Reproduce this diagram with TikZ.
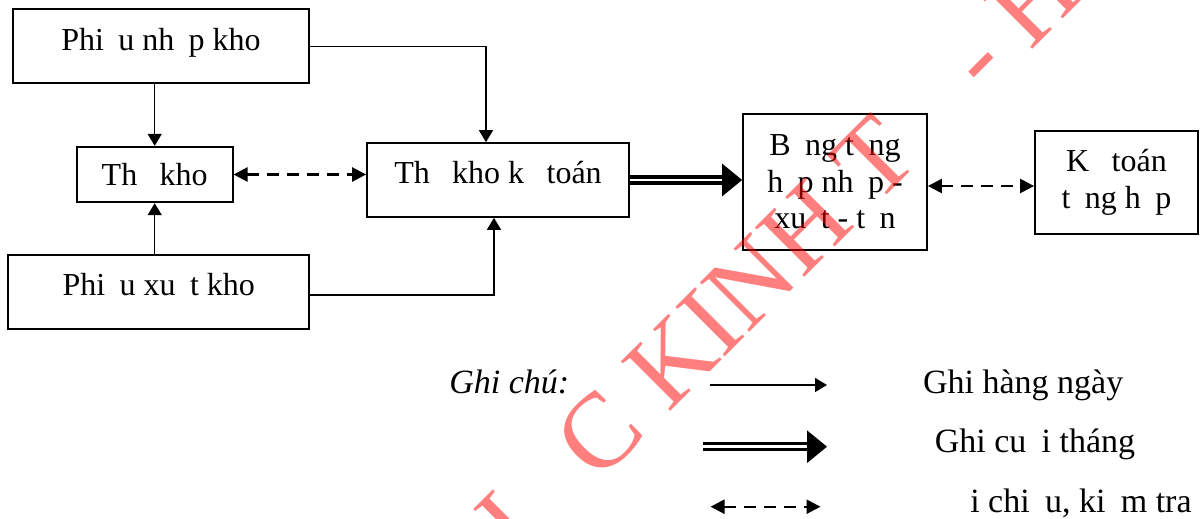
\documentclass[tikz,border=0pt]{standalone}
\usepackage{fontspec}
\setmainfont{Liberation Serif}
\usetikzlibrary{arrows.meta,calc}
\newcommand{\gp}{\hspace{.45em}}

\begin{document}
\begin{tikzpicture}[x=0.75pt,y=0.75pt,yscale=-1,xscale=1,
  box/.style={draw, line width=1.3pt, inner sep=0pt, align=center, font=\fontsize{24}{27.5}\selectfont},
  arr/.style={line width=1.1pt, -{Triangle[length=9pt,width=10.5pt]}},
  dasharr/.style={line width=1.8pt, dash pattern=on 9pt off 6pt, {Triangle[length=10.5pt,width=10.5pt]}-{Triangle[length=10.5pt,width=10.5pt]}},
  dblarr/.style={double, line width=2.4pt, double distance=2pt, -{Triangle[length=15pt,width=24pt]}},
  lbl/.style={anchor=base west, inner sep=0pt, font=\fontsize{25.5}{28}\selectfont},
  wmark/.style={text=red, text opacity=0.5, inner sep=0pt, font=\fontsize{80}{82}\selectfont}]
\useasboundingbox (0,0) rectangle (1202,518);

% boxes
\node[box, minimum width=222.2pt, minimum height=55.5pt, text height=17pt, text depth=11.4pt] (nhap) at (161,46.3) {Phi\gp u nh\gp p kho};
\node[box, minimum width=117pt, minimum height=41.7pt, text height=17pt, text depth=1.2pt] (thekho) at (154.7,174.5) {Th\gp{} kho};
\node[box, minimum width=225.8pt, minimum height=55.7pt, text height=17pt, text depth=12.8pt] (xuat) at (158.8,292.2) {Phi\gp u xu\gp t kho};
\node[box, minimum width=196.5pt, minimum height=55.5pt, text height=17pt, text depth=12.5pt] (tkkt) at (498,180) {Th\gp{} kho k\gp{} toán};
\node[box, minimum width=138pt, minimum height=102pt] (bang) at (835,182) {B\gp ng t\gp ng\\h\gp p nh\gp p -\\xu\gp t - t\gp n};
\node[box, minimum width=122.3pt, minimum height=77.3pt] (kttong) at (1116.5,182.5) {K\gp{} toán\\t\gp ng h\gp p};

% connectors
\draw[arr] (thekho.north |- nhap.south) -- (thekho.north);
\draw[arr] (thekho.south |- xuat.north) -- (thekho.south);
\draw[arr] (nhap.east) -| ($(tkkt.north)+(-12,0)$);
\draw[arr] ($(xuat.east)+(0,3)$) -| ($(tkkt.south)+(-4,0)$);
\draw[dasharr] (thekho.east) -- (thekho.east -| tkkt.west);
\draw[dblarr] (tkkt.east) -- (tkkt.east -| bang.west);
\draw[dasharr] ($(bang.east)+(0,4)$) coordinate (b1) -- (b1 -| kttong.west);

% legend
\node[lbl] (ghichu) at (449,393) {\textit{Ghi chú:}};
\coordinate (l1a) at (709.5,385); \coordinate (l1b) at (827,385);
\coordinate (l2a) at (703,446.7); \coordinate (l2b) at (827,446.7);
\coordinate (l3a) at (710.5,506.7); \coordinate (l3b) at (820.5,506.7);
\draw[arr] (l1a) -- (l1b);
\draw[dblarr] (l2a) -- (l2b);
\draw[dasharr] (l3a) -- (l3b);
\node[lbl] (t1) at (922.8,393) {Ghi hàng ngày};
\node[lbl] (t2) at (934.5,452) {Ghi cu\gp i tháng};
\node[lbl] (t3) at (970,512) {i chi\gp u, ki\gp m tra};

% red stamp across the page
\begin{scope}
\clip (0,0) rectangle (1202,518);
\node[wmark, rotate=45, anchor=base west] (stamp) at (490,592) {H\hspace{.72em}C KINH T\hspace{.61em} - H};
\end{scope}
\end{tikzpicture}
\end{document}
